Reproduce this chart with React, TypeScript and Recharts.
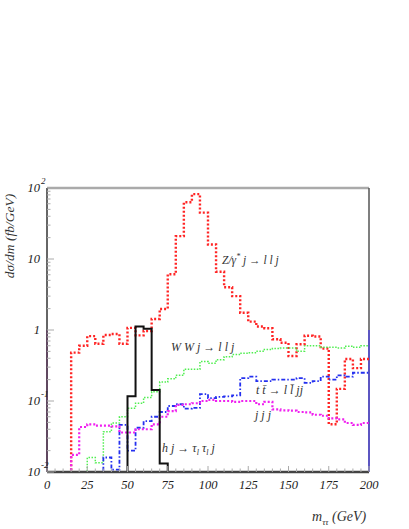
import React from 'react';
import { ComposedChart, Line, XAxis, YAxis, ReferenceLine } from 'recharts';

// bin edges (GeV), 5 GeV bins from 0 to 200
const edges = [
  0, 5, 10, 15, 20, 25, 30, 35, 40, 45, 50, 55, 60, 65, 70, 75, 80, 85, 90, 95, 100,
  105, 110, 115, 120, 125, 130, 135, 140, 145, 150, 155, 160, 165, 170, 175, 180, 185, 190, 195, 200,
];

// empty bin (drawn below the frame and clipped)
const LOW = 0.0001;

// Z/gamma* j -> l l j
const zjValues = [
  LOW, LOW, LOW, 0.48, 0.6, 0.82, 0.64, 0.85, 0.88, 0.64,
  1.07, 0.84, 0.97, 1.43, 1.98, 6.1, 21, 63, 82, 45,
  16, 6.6, 4.0, 3.0, 1.75, 1.31, 1.12, 1.06, 0.74, 0.66,
  0.43, 0.63, 0.83, 0.81, 0.55, 0.047, 0.148, 0.39, 0.29, 0.39,
];

// W W j -> l l j
const wwjValues = [
  LOW, LOW, LOW, LOW, 0.0101, 0.016, 0.0135, 0.037, 0.049, 0.06,
  0.079, 0.093, 0.112, 0.135, 0.185, 0.205, 0.23, 0.28, 0.28, 0.36,
  0.34, 0.38, 0.42, 0.45, 0.47, 0.48, 0.5, 0.53, 0.55, 0.56,
  0.56, 0.5, 0.6, 0.6, 0.57, 0.57, 0.56, 0.59, 0.57, 0.6,
];

// t tbar -> l lbar jj
const ttValues = [
  LOW, LOW, LOW, LOW, LOW, LOW, LOW, 0.016, 0.0108, 0.046,
  0.02, 0.042, 0.052, 0.06, 0.07, 0.085, 0.09, 0.078, 0.08, 0.125,
  0.11, 0.114, 0.116, 0.12, 0.21, 0.22, 0.19, 0.19, 0.2, 0.2,
  0.2, 0.21, 0.18, 0.19, 0.22, 0.2, 0.23, 0.22, 0.25, 0.25,
];

// j j j
const jjjValues = [
  LOW, LOW, LOW, 0.0174, 0.043, 0.047, 0.045, 0.045, 0.044, 0.036,
  0.036, 0.04, 0.04, 0.047, 0.06, 0.072, 0.088, 0.09, 0.093, 0.1,
  0.104, 0.1, 0.1, 0.097, 0.1, 0.1, 0.09, 0.097, 0.076, 0.074,
  0.073, 0.07, 0.069, 0.064, 0.062, 0.057, 0.055, 0.049, 0.046, 0.049,
];

// h j -> tau tau j
const hjValues = [
  LOW, LOW, LOW, LOW, LOW, LOW, LOW, LOW, LOW, LOW,
  0.117, 1.12, 1.04, 0.143, 0.0132, LOW, LOW, LOW, LOW, LOW,
  LOW, LOW, LOW, LOW, LOW, LOW, LOW, LOW, LOW, LOW,
  LOW, LOW, LOW, LOW, LOW, LOW, LOW, LOW, LOW, LOW,
];

const xLabelTicks = [0, 25, 50, 75, 100, 125, 150, 175, 200];
const yDecades = [0.01, 0.1, 1, 10, 100];
const yTickBase = ['10', '10', '1', '10', '10'];
const yTickExp = ['-2', '-1', '', '', '2'];
const minorSteps = [2, 3, 4, 5, 6, 7, 8, 9];

const series = [
  { key: 'zj', values: zjValues, color: '#ff2424', width: 2.4, dash: '2 2' },
  { key: 'wwj', values: wwjValues, color: '#50ee50', width: 1.5, dash: '1.5 1.5' },
  { key: 'tt', values: ttValues, color: '#2430f0', width: 1.8, dash: '4 2 1.5 2' },
  { key: 'jjj', values: jjjValues, color: '#f020f0', width: 2.2, dash: '2 2' },
  { key: 'hj', values: hjValues, color: '#111111', width: 2, dash: undefined },
];

// stepAfter rows: one per left edge, last row repeats the final bin
const data = edges.map((x, i) => {
  const row: Record<string, number> = { x };
  series.forEach((s) => {
    row[s.key] = s.values[Math.min(i, s.values.length - 1)];
  });
  return row;
});

const yTicks = [
  ...yDecades,
  ...yDecades.slice(0, 4).flatMap((d) => minorSteps.map((m) => +(d * m).toPrecision(3))),
].sort((a, b) => a - b);

const serif = '"Liberation Serif", "DejaVu Serif", serif';

function YTick(props: any) {
  const { x, y, payload } = props;
  const idx = yDecades.indexOf(payload.value);
  const major = idx >= 0;
  return (
    <g>
      <line x1={x} x2={x + (major ? 7 : 3.5)} y1={y} y2={y} stroke="#aaa" strokeWidth={1} />
      {major && (
        <text x={40} y={y + 4} fontFamily={serif} fontStyle="italic" fontSize={12.5} fill="#222" textAnchor="end">
          {yTickBase[idx]}
        </text>
      )}
      {major && yTickExp[idx] && (
        <text x={41} y={y - 4} fontFamily={serif} fontStyle="italic" fontSize={9} fill="#222">
          {yTickExp[idx]}
        </text>
      )}
    </g>
  );
}

function XTick(props: any) {
  const { x, y, payload } = props;
  const major = xLabelTicks.includes(payload.value);
  return (
    <g>
      <line x1={x} x2={x} y1={y} y2={y - (major ? 6 : 3.5)} stroke="#aaa" strokeWidth={1} />
      {major && (
        <text x={x} y={y + 17} fontFamily={serif} fontStyle="italic" fontSize={12.5} fill="#222" textAnchor="middle">
          {payload.value}
        </text>
      )}
    </g>
  );
}

export default function App() {
  return (
    <div style={{ position: 'absolute', left: 0, top: 0, width: 409, height: 529, background: '#fff' }}>
      <ComposedChart width={409} height={529} data={data} margin={{ top: 188, right: 40, bottom: 0, left: 0 }}>
        <XAxis
          dataKey="x"
          type="number"
          domain={[0, 200]}
          ticks={edges}
          interval={0}
          height={57}
          tickSize={0}
          tickMargin={0}
          tick={<XTick />}
          axisLine={{ stroke: '#444', strokeWidth: 2.5 }}
          tickLine={false}
        />
        <YAxis
          scale="log"
          type="number"
          domain={[0.01, 100]}
          allowDataOverflow
          ticks={yTicks}
          interval={0}
          width={47}
          tickSize={0}
          tickMargin={0}
          tick={<YTick />}
          axisLine={{ stroke: '#333', strokeWidth: 1.5 }}
          tickLine={false}
        />
        <ReferenceLine y={100} stroke="#aaa" strokeWidth={2.5} />
        <ReferenceLine x={200} stroke="#555" strokeWidth={1.5} />
        <ReferenceLine segment={[{ x: 0, y: 0.01 }, { x: 0, y: 1 }]} stroke="#e060e0" strokeWidth={1.5} />
        <ReferenceLine segment={[{ x: 200, y: 0.01 }, { x: 200, y: 1 }]} stroke="#5048d8" strokeWidth={1.5} />
        {series.map((s) => (
          <Line
            key={s.key}
            dataKey={s.key}
            type="stepAfter"
            stroke={s.color}
            strokeWidth={s.width}
            strokeDasharray={s.dash}
            dot={false}
            activeDot={false}
            isAnimationActive={false}
          />
        ))}
      </ComposedChart>
      <svg
        width={409}
        height={529}
        style={{ position: 'absolute', left: 0, top: 0, pointerEvents: 'none' }}
        fontFamily={serif}
        fontStyle="italic"
        fill="#333"
      >
        <text x={222} y={264} fontSize={11.5}>
          Z/γ<tspan fontSize={8} dy={-5}>*</tspan>
          <tspan dy={5}> j → l l j</tspan>
        </text>
        <text x={171} y={351} fontSize={12}>W W j → l l j</text>
        <text x={256} y={394} fontSize={12}>t t̄ → l l̄ jj</text>
        <text x={255} y={419} fontSize={12}>j j j</text>
        <text x={162} y={452} fontSize={12}>
          h j → τ<tspan fontSize={8} dy={3}>l</tspan>
          <tspan dy={-3}> τ</tspan>
          <tspan fontSize={8} dy={3}>l</tspan>
          <tspan dy={-3}> j</tspan>
        </text>
        <text x={312} y={521} fontSize={14}>
          m<tspan fontSize={9} dy={4}>ττ</tspan>
          <tspan dy={-4}> (GeV)</tspan>
        </text>
        <text x={14} y={236} fontSize={13.5} textAnchor="middle" transform="rotate(-90 14 236)">
          dσ/dm (fb/GeV)
        </text>
      </svg>
    </div>
  );
}
